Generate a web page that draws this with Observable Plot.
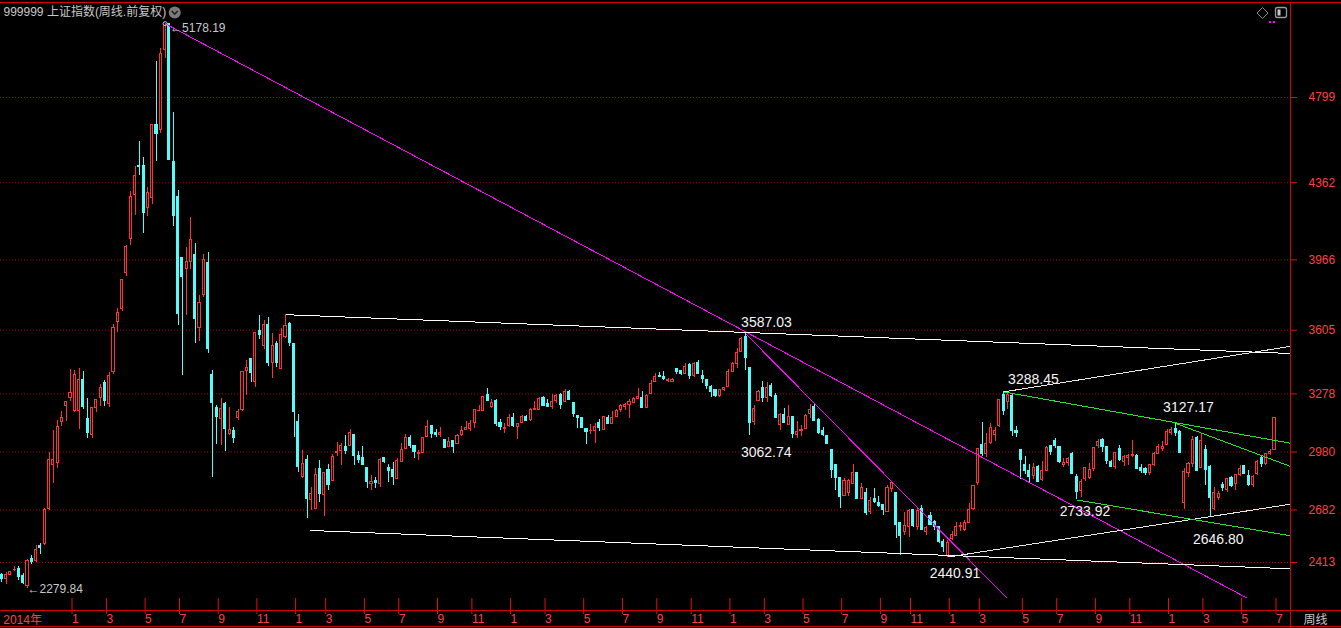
<!DOCTYPE html>
<html><head><meta charset="utf-8">
<script src="https://cdn.jsdelivr.net/npm/d3@7"></script>
<script src="https://cdn.jsdelivr.net/npm/@observablehq/plot@0.6"></script>
<style>
html,body{margin:0;padding:0;background:#000;overflow:hidden;}
#chart svg{display:block;}
</style></head><body><div id="chart"></div>
<script>
// ---------- DATA ----------
const chartTitle = "999999 上证指数(周线.前复权)";
const periodLabel = "周线";
const firstFriday = "2014-09-19";
const holidayWeeks = ["2016-02-12","2016-10-07","2017-10-06","2018-10-05","2019-02-08","2020-01-31"];
const shortWeeksEndingPrevMonth = ["2014-10-03","2015-01-02","2015-05-01","2015-10-02","2016-01-01","2019-05-03","2019-10-04","2020-05-01"];

const open = [
2347,2327,2350,2372,2380,2345,2290,2431,2420,2496,
2507,2690,2912,2925,3133,3218,3258,3189,3190,3350,
3150,3066,3207,3259,3335,3225,3390,3645,3712,3900,
4072,4300,4447,4446,4233,4283,4660,4631,5043,5174,
4470,4290,3975,3920,3955,3990,3616,3786,3950,3374,
3205,3150,3224,3073,3090,3156,3196,3396,3455,3338,
3600,3523,3632,3436,3532,3407,3569,3638,3536,3136,
2850,2940,2735,2688,2894,2757,2890,2830,2975,2985,
3008,3010,3065,2957,2947,2899,2815,2830,2817,2947,
2899,2890,2842,2931,2996,3053,3013,2970,2974,3056,
3111,3075,3066,3044,3005,3034,3022,3068,3094,3099,
3128,3190,3190,3275,3211,3241,3128,3096,3111,3154,
3108,3128,3162,3142,3198,3198,3256,3224,3210,3241,
3275,3239,3290,3232,3166,3154,3099,3087,3087,3130,
3094,3154,3125,3159,3193,3210,3222,3231,3253,3256,
3207,3278,3339,3371,3367,3343,3340,3404,3398,3378,
3424,3368,3437,3369,3352,3316,3296,3265,3298,3313,
3390,3429,3492,3569,3412,3133,3241,3309,3258,3321,
3267,3119,3171,3119,3159,3068,3086,3099,3176,3210,
3142,3090,3061,2988,2911,2846,2754,2768,2817,2873,
2740,2772,2673,2740,2719,2706,2671,2790,2768,2615,
2568,2594,2680,2594,2690,2570,2654,2620,2594,2520,
2446,2535,2551,2595,2578,2618,2685,2820,3017,2970,
3025,3066,3114,3270,3236,3265,3090,2990,2915,2885,
2855,2902,2838,2885,3012,3035,3005,2912,2924,2970,
2850,2780,2842,2845,2892,3013,3040,3005,2929,2905,
2996,2930,2950,2960,2957,2900,2893,2872,2914,2972,
2996,3017,3080,3098,3085,2716,2870,2918,3050,2900,
2990,2902,2690,2745,2810,2784,2846,2815,2860,2906,
2856,2813,2868,2950,2919,2970,2991];

const high = [
2356,2362,2368,2391,2391,2357,2427,2449,2500,2508,
2690,2975,3091,3143,3186,3239,3404,3400,3406,3394,
3255,3210,3250,3325,3347,3390,3632,3716,3865,4040,
4317,4444,4572,4490,4337,4658,4986,5051,5178.19,5176,
4720,4324,3976,4030,4184,4052,3781,3995,4006,3400,
3217,3253,3234,3210,3106,3200,3394,3447,3462,3591,
3679,3654,3668,3586,3547,3612,3684.57,3644,3538,3172,
2990,2962,2800,2893,2937,2876,2914,2967,3027,3022,
3064,3095,3065,2983,3008,2899,2860,2851,2945,2954,
2914,2926,2945,3022,3070,3065,3013,2990,3053,3142,
3118,3094,3104,3044,3052,3034,3070,3111,3137,3142,
3198,3219,3265,3304,3248,3248,3147,3125,3173,3176,
3128,3165,3167,3203,3241,3261,3265,3248,3275,3275,
3279,3299,3295,3232,3166,3154,3099,3119,3125,3145,
3162,3166,3188,3198,3222,3227,3248,3261,3304,3290,
3275,3347,3385,3390,3392,3358,3358,3410,3400,3432,
3432,3441,3450,3400,3352,3321,3301,3301,3310,3402,
3441,3509,3569,3587.03,3412,3219,3296,3342,3338,3330,
3279,3179,3201,3219,3159,3137,3116,3174,3222,3224,
3150,3107,3061,2988,2916,2846,2842,2838,2916,2877,
2817,2794,2748,2794,2750,2713,2808,2827,2768,2620,
2671,2685,2686,2688,2705,2600,2668,2630,2600,2533,
2525,2570,2618,2618,2630,2716,2810,2996,3130,3075,
3126,3107,3251,3288.45,3285,3282,3110,2995,2955,2915,
2920,2910,2930,3007,3014,3048,3010,2948,2953,2975,
2865,2840,2900,2920,3002,3042,3050,3010,2935,2979,
3015,2964,2967,3040,2967,2917,2900,2918,2976,3021,
3036,3098,3105,3127.17,3089,2893,2926,3058,3058,3074,
3013,2910,2800,2775,2826,2845,2852,2864,2910,2911,
2886,2860,2934,2957,2972,2993,3158];

const low = [
2310,2300,2344,2366,2323,2298,2279.84,2405,2415,2455,
2500,2680,2819,2896,3110,3136,3240,3182,3095,3198,
3049,3050,3185,3211,3212,3207,3378,3595,3700,3882,
4040,4196,4398,4099,4190,4250,4470,4616,4999,4476,
4135,3630,3373,3680,3914,3537,3549,3773,3486,2850,
3020,3011,2983,3065,3023,3140,3190,3268,3337,3309,
3558,3508,3419,3358,3415,3407,3560,3521,3056,2877,
2844,2638,2680,2683,2722,2650,2782,2830,2957,2911,
2967,3010,2911,2920,2913,2791,2781,2793,2800,2919,
2822,2807,2838,2931,2996,2996,2945,2937,2974,3053,
3048,3056,3052,3001,3005,2974,3022,3061,3090,3087,
3102,3190,3190,3241,3201,3111,3090,3077,3107,3104,
3044,3128,3135,3138,3198,3198,3214,3207,3198,3231,
3198,3239,3244,3155,3102,3099,3016,3070,3022,3087,
3090,3121,3125,3155,3185,3193,3150,3228,3253,3205,
3207,3275,3339,3364,3347,3338,3337,3380,3371,3378,
3354,3364,3381,3330,3301,3262,3262,3260,3290,3313,
3390,3407,3492,3400,3062.74,3116,3241,3236,3236,3258,
3150,3091,3125,3116,3048,3048,3060,3095,3150,3138,
3068,3062,3017,2846,2782,2691,2750,2750,2813,2735,
2735,2653,2659,2714,2696,2653,2669,2774,2536,2449,
2550,2540,2594,2576,2577,2550,2603,2576,2509,2462,
2440.91,2524,2545,2570,2573,2612,2680,2810,2958,2952,
3020,3036,3108,3168,3200,3059,3056,2838,2866,2824,
2838,2822,2830,2880,2962,3000,2922,2900,2906,2864,
2733.92,2745,2830,2840,2880,3000,2980,2916,2899,2891,
2930,2906,2910,2952,2888,2870,2857,2857,2905,2965,
2985,3013,3065,3060,2970,2685,2851,2900,2878,2895,
2809,2646.80,2680,2730,2778,2770,2796,2780,2855,2866,
2805,2800,2858,2898,2910,2962,2990];

const close = [
2329,2347,2363,2374,2341,2310,2420,2418,2478,2487,
2683,2938,2938,3108,3157,3235,3285,3376,3351,3210,
3076,3204,3246,3310,3241,3372,3617,3691,3863,4034,
4287,4394,4441,4205,4308,4658,4611,5023,5166,4478,
4192,3686,3877,3957,4070,3664,3744,3965,3508,3232,
3160,3200,3097,3092,3053,3183,3391,3412,3383,3590,
3581,3630,3436,3524,3435,3578,3628,3539,3186,2901,
2916,2737,2763,2861,2767,2874,2810,2955,2979,3009,
2985,3078,2960,2938,2913,2828,2825,2822,2939,2927,
2885,2854,2932,2988,3054,3012,2979,2976,3050,3108,
3070,3067,3078,3002,3033,3004,3063,3090,3104,3125,
3196,3192,3261,3243,3232,3122,3110,3103,3154,3112,
3123,3159,3140,3196,3202,3253,3218,3212,3237,3269,
3223,3286,3246,3173,3155,3103,3083,3090,3107,3105,
3158,3123,3157,3192,3217,3222,3237,3253,3262,3208,
3268,3331,3367,3365,3353,3352,3348,3390,3378,3416,
3371,3432,3382,3353,3317,3289,3266,3297,3307,3391,
3429,3487,3558,3462,3129,3199,3289,3256,3307,3269,
3152,3169,3131,3159,3071,3082,3091,3163,3193,3141,
3075,3067,3022,2889,2847,2747,2831,2829,2873,2740,
2795,2669,2729,2725,2702,2682,2797,2821,2606,2550,
2598,2676,2599,2679,2579,2588,2605,2593,2516,2494,
2514,2553,2596,2601,2618,2682,2804,2994,2969,3021,
3104,3090,3247,3189,3271,3086,3078,2939,2882,2852,
2898,2827,2882,3001,2979,3011,2930,2924,2944,2868,
2774,2824,2897,2886,2999,3031,3006,2932,2905,2973,
2938,2954,2958,2964,2891,2885,2871,2912,2968,3005,
3005,3083,3092,3075,2977,2876,2917,3040,2880,3034,
2887,2746,2772,2764,2797,2839,2808,2860,2895,2868,
2813,2852,2931,2920,2968,2980,3152];

// right-axis tick values
const yTicks = [4799, 4362, 3966, 3605, 3278, 2980, 2682, 2413];

// labelled turning points (week index, price)
const markIdx = [173, 174, 220, 233, 250, 273, 281];
const markVal = [3587.03, 3062.74, 2440.91, 3288.45, 2733.92, 3127.17, 2646.80];

// drawn trend lines (week index / price at both ends)
const lineFromIdx = [38, 173, 66, 71.8, 220, 233, 233, 273, 250];
const lineFromVal = [5178.19, 3587.03, 3684.57, 2577.3, 2440.91, 3288.45, 3288.45, 3127.17, 2733.92];
const lineToIdx   = [289.5, 233.8, 299.7, 299.7, 299.7, 299.7, 299.7, 299.7, 299.7];
const lineToVal   = [2232, 2230, 3485.5, 2380.7, 2712, 3522, 3025, 2906, 2550];
const lineKind    = ["m", "m", "w", "w", "w2", "w2", "g", "g", "g"];

// ---------- STYLE / LAYOUT ----------
const RED = "#ff3232", CYAN = "#54fcfc", AXIS = "#e01010", AXTXT = "#ff4040";
const lineColors = {m: "#ff00ff", w: "#ffffff", w2: "#e8e8e8", g: "#22e622"};
const markDx = [-4.5, -9, -18, 4.5, -17, -12.5, -17];
const markDy = [-7, 21, 21, -8, 16, -11, 27];
const W = 1341, H = 628, mTop = 2, mRight = 51, mBottom = 18, mLeft = 0;
const xDomain = [-0.28, 299.72];
const yDomain = [2166.7, 5286.5];
const FONT = "'Liberation Sans','Noto Sans CJK SC',Arial,sans-serif";

if (![high, low, close].every(a => a.length === open.length)) throw new Error("length mismatch " + [open.length, high.length, low.length, close.length]);

// ---------- weeks & month ticks ----------
const DAY = 864e5;
const hol = new Set(holidayWeeks), shortW = new Set(shortWeeksEndingPrevMonth);
const weeks = [];
for (let t = Date.parse(firstFriday + "T00:00:00Z"); weeks.length < open.length; t += 7 * DAY) {
  const key = new Date(t).toISOString().slice(0, 10);
  if (hol.has(key)) continue;
  const d = new Date(shortW.has(key) ? t - 4 * DAY : t);
  weeks.push({i: weeks.length, month: d.getUTCMonth() + 1, year: d.getUTCFullYear()});
}
const firstJan = weeks.findIndex((w, k) => k > 0 && w.month === 1 && weeks[k - 1].month !== 1);
const monthTicks = weeks.filter((w, k) => k >= firstJan && k > 0 && w.month !== weeks[k - 1].month && w.month % 2 === 1);
const monthLabel = new Map(monthTicks.map(w => [w.i, String(w.month)]));

const candles = open.map((o, i) => ({i, open: o, high: high[i], low: low[i], close: close[i], up: close[i] >= o}));
const maxC = candles.reduce((a, b) => b.high > a.high ? b : a);
const minC = candles.reduce((a, b) => b.low < a.low ? b : a);
const trend = lineFromIdx.map((v, k) => ({x1: v, y1: lineFromVal[k], x2: lineToIdx[k], y2: lineToVal[k], color: lineColors[lineKind[k]]}));

const annoMarks = markIdx.map((ix, k) => Plot.text([{i: ix, v: markVal[k]}], {
  x: "i", y: "v", text: d => d.v.toFixed(2), dx: markDx[k], dy: markDy[k],
  textAnchor: "start", lineAnchor: "bottom", fill: "#f4f4f4", fontSize: 14
}));

const chart = Plot.plot({
  width: W, height: H, marginTop: mTop, marginRight: mRight, marginBottom: mBottom, marginLeft: mLeft,
  style: {background: "#000", color: AXTXT, fontFamily: FONT, fontSize: "12px"},
  x: {type: "linear", domain: xDomain},
  y: {type: "linear", domain: yDomain},
  marks: [
    Plot.ruleY(yTicks, {stroke: "#a00000", strokeDasharray: "1,2"}),
    Plot.ruleX(candles, {x: "i", y1: "low", y2: "high", stroke: d => d.up ? RED : CYAN, shapeRendering: "crispEdges"}),
    Plot.rect(candles, {x1: d => d.i - 0.25, x2: d => d.i + 0.25, y1: "open", y2: "close",
      fill: d => d.up ? "#000" : CYAN, stroke: d => d.up ? RED : CYAN, shapeRendering: "crispEdges"}),
    Plot.link(trend, {x1: "x1", y1: "y1", x2: "x2", y2: "y2", stroke: "color", strokeWidth: 1, shapeRendering: "crispEdges"}),
    ...annoMarks,
    Plot.dot([maxC], {x: "i", y: "high", r: 2, stroke: "#c8c8c8", strokeWidth: 1}),
    Plot.text([maxC], {x: "i", y: "high", text: d => "←" + d.high.toFixed(2), dx: 5, dy: 5, textAnchor: "start", lineAnchor: "middle", fill: "#c8c8c8", fontSize: 12}),
    Plot.text([minC], {x: "i", y: "low", text: d => "←" + d.low.toFixed(2), dx: 0, dy: 1, textAnchor: "start", lineAnchor: "middle", fill: "#c8c8c8", fontSize: 12}),
    Plot.axisY(yTicks, {anchor: "right", tickSize: 6, tickPadding: 12, tickFormat: d => String(d), stroke: AXIS, fill: AXTXT, fontSize: 12, label: null}),
    Plot.axisX(monthTicks.map(w => w.i), {anchor: "bottom", tickSize: 16, tickPadding: 0, tickFormat: d => monthLabel.get(d),
      textAnchor: "start", dx: 1.5, dy: -12, stroke: AXIS, fill: AXTXT, fontSize: 12, label: null}),
    Plot.text([0], {x: d => d, frameAnchor: "bottom", text: () => weeks[0].year + "年", textAnchor: "start", lineAnchor: "bottom", dx: 1.5, dy: 13, fill: AXTXT, fontSize: 12}),
    Plot.text([chartTitle], {frameAnchor: "top-left", text: d => d, dx: 3, dy: 5, textAnchor: "start", lineAnchor: "top", fill: "#c8c8c8", fontSize: 12}),
    Plot.text([periodLabel], {frameAnchor: "bottom-right", text: d => d, dx: 13, dy: 13, textAnchor: "start", lineAnchor: "bottom", fill: "#c8c8c8", fontSize: 12})
  ]
});
document.getElementById("chart").appendChild(chart);

// ---------- frame chrome ----------
const svg = d3.select(chart);
const g = svg.append("g").attr("stroke", "#d80000").attr("shape-rendering", "crispEdges");
const right = W - mRight, bottom = H - mBottom;
g.append("line").attr("x1", 0).attr("x2", W).attr("y1", mTop + 0.5).attr("y2", mTop + 0.5);
g.append("line").attr("x1", right + 0.5).attr("x2", right + 0.5).attr("y1", mTop).attr("y2", H);
g.append("line").attr("x1", 0).attr("x2", W).attr("y1", bottom + 0.5).attr("y2", bottom + 0.5);
g.append("line").attr("x1", 0).attr("x2", W).attr("y1", H - 1.5).attr("y2", H - 1.5);

// title dropdown icon
const titleNode = svg.selectAll("text").filter(function () { return this.textContent === chartTitle; }).node();
let tx = 179;
if (titleNode && titleNode.getBBox) { const bb = titleNode.getBBox(); tx = bb.x + bb.width + 12; }
const ic = svg.append("g");
ic.append("circle").attr("cx", tx).attr("cy", 12.5).attr("r", 6).attr("fill", "#7a7a7a");
ic.append("path").attr("d", `M${tx - 3},${11} L${tx},${14} L${tx + 3},${11}`).attr("fill", "none").attr("stroke", "#222").attr("stroke-width", 1.6);

// top-right icons
const ti = svg.append("g");
ti.append("path").attr("d", "M1262.5,7.5 L1268,13 L1262.5,18.5 L1257,13 Z").attr("fill", "none").attr("stroke", "#8a8a8a");
ti.append("rect").attr("x", 1275.5).attr("y", 7.5).attr("width", 11).attr("height", 10).attr("rx", 2).attr("fill", "none").attr("stroke", "#9a9a9a").attr("stroke-width", 1.3);
ti.append("rect").attr("x", 1277.5).attr("y", 9.5).attr("width", 3).attr("height", 6).attr("fill", "#c8c8c8");
ti.append("rect").attr("x", 1269).attr("y", 21).attr("width", 2).attr("height", 2).attr("fill", "#ff00ff");
ti.append("rect").attr("x", 1273).attr("y", 21).attr("width", 2).attr("height", 2).attr("fill", "#ff00ff");
</script>
</body></html>
